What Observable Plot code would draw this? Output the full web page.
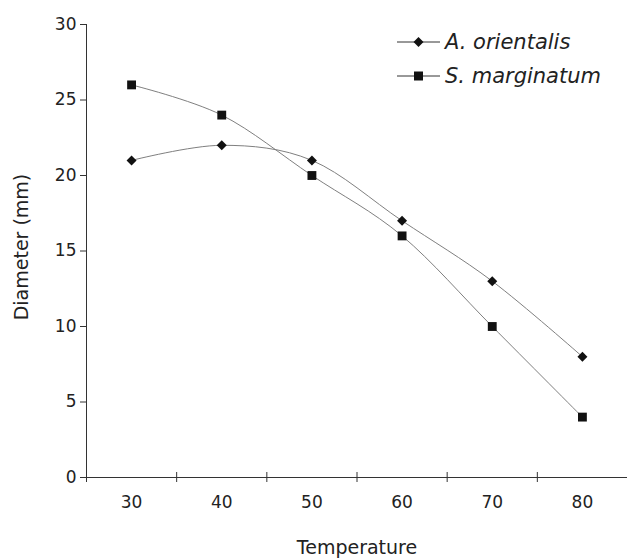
<!DOCTYPE html>
<html>
<head>
<meta charset="utf-8">
<script src="https://cdn.jsdelivr.net/npm/d3@7"></script>
<script src="https://cdn.jsdelivr.net/npm/@observablehq/plot@0.6"></script>
<style>
  html, body { margin: 0; padding: 0; background: #fff; }
  #wrap { position: relative; width: 627px; height: 559px; font-family: "DejaVu Sans", Verdana, sans-serif; }
  #legend { position: absolute; left: 397px; top: 25px; font-style: italic; font-size: 21px; color: #222; }
  #legend .row { display: flex; align-items: center; height: 34px; }
  #legend svg { margin-right: 5px; }
</style>
</head>
<body>
<div id="wrap"></div>
<script>
const temperatures = [30, 40, 50, 60, 70, 80];
const orientalis = [21, 22, 21, 17, 13, 8];
const marginatum = [26, 24, 20, 16, 10, 4];
const seriesNames = ["A. orientalis", "S. marginatum"];
const yTicks = [0, 5, 10, 15, 20, 25, 30];
const xTickMarks = [25, 35, 45, 55, 65, 75, 85];

const rowsA = temperatures.map((t, i) => ({t, d: orientalis[i]}));
const rowsS = temperatures.map((t, i) => ({t, d: marginatum[i]}));

const font = '"DejaVu Sans", Verdana, sans-serif';
const lineColor = "#7f7f7f";

const chart = Plot.plot({
  width: 627,
  height: 559,
  marginLeft: 86,
  marginRight: 0,
  marginTop: 24,
  marginBottom: 82,
  style: {fontFamily: font, color: "#222", background: "#fff"},
  x: {domain: [25, 85]},
  y: {domain: [0, 30]},
  marks: [
    Plot.axisY({ticks: yTicks, tickSize: 6, tickPadding: 4, fontSize: 17, label: null, stroke: "#333"}),
    Plot.axisX({ticks: temperatures, tickSize: 0, tickPadding: 18, fontSize: 17, label: null}),
    Plot.ruleX([25], {stroke: "#333"}),
    Plot.ruleY([0], {stroke: "#333"}),
    Plot.ruleX(xTickMarks, {x: d => d, y1: 0, y2: 0, insetTop: -5, insetBottom: -5, stroke: "#333"}),
    Plot.line(rowsA, {x: "t", y: "d", stroke: lineColor, strokeWidth: 1, curve: "cardinal", tension: 0}),
    Plot.line(rowsS, {x: "t", y: "d", stroke: lineColor, strokeWidth: 1, curve: "cardinal", tension: 0}),
    Plot.dot(rowsA, {x: "t", y: "d", symbol: "diamond2", r: 4.5, fill: "#111", stroke: "none"}),
    Plot.dot(rowsS, {x: "t", y: "d", symbol: "square", r: 5, fill: "#111", stroke: "none"}),
    Plot.text(["Temperature"], {frameAnchor: "bottom", lineAnchor: "middle", dy: 70, fontSize: 19, fill: "#222"}),
    Plot.text(["Diameter (mm)"], {frameAnchor: "left", textAnchor: "middle", lineAnchor: "middle", dx: -65, dy: -4, rotate: -90, fontSize: 19, fill: "#222"})
  ]
});

const wrap = document.getElementById("wrap");
wrap.appendChild(chart);

// legend
const legend = document.createElement("div");
legend.id = "legend";
const sym = [
  '<polygon points="21.5,1 26.5,6 21.5,11 16.5,6" fill="#111"/>',
  '<rect x="17" y="1.5" width="9" height="9" fill="#111"/>'
];
seriesNames.forEach((name, i) => {
  const row = document.createElement("div");
  row.className = "row";
  row.innerHTML = `<svg width="43" height="12"><line x1="0" x2="43" y1="6" y2="6" stroke="#333" stroke-width="1"/>${sym[i]}</svg><span>${name}</span>`;
  legend.appendChild(row);
});
wrap.appendChild(legend);
</script>
</body>
</html>
